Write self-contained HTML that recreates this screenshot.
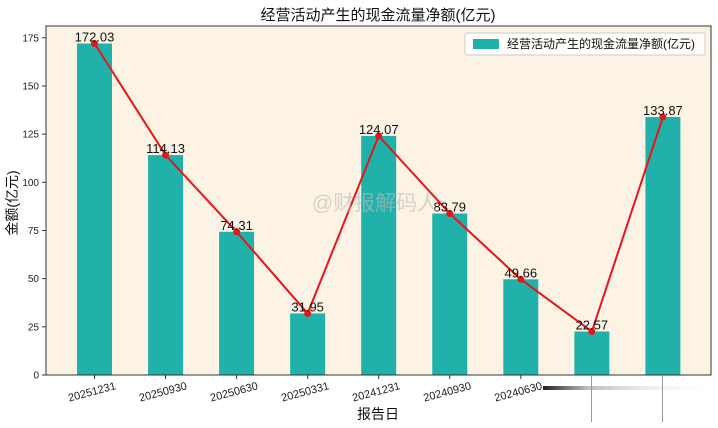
<!DOCTYPE html>
<html><head><meta charset="utf-8">
<style>
body{margin:0;background:#fff;}
svg{display:block;font-family:"Liberation Sans","Noto Sans CJK SC",sans-serif;}
</style></head>
<body>
<svg id="chart" width="718" height="428">
<defs>
<linearGradient id="fade" x1="0" x2="1" y1="0" y2="0">
<stop offset="0" stop-color="#222"/><stop offset="0.25" stop-color="#bbb"/><stop offset="1" stop-color="#fff" stop-opacity="0"/>
</linearGradient>
</defs>
<rect x="46" y="26" width="665" height="349" fill="#fdf3e4"/>
<text x="378" y="20" text-anchor="middle" font-size="15" fill="#111">经营活动产生的现金流量净额(亿元)</text>
<g id="bars"></g>
<g id="line"></g>
<g id="labels"></g>
<g id="yaxis"></g>
<g id="xaxis"></g>
<text x="375" y="210" text-anchor="middle" font-size="21" fill="#bbb" opacity="0.6">@财报解码人</text>
<rect x="46" y="26" width="665" height="349" fill="none" stroke="#333" stroke-width="1"/>
<g>
<rect x="465" y="33" width="240" height="22" fill="#fff" fill-opacity="0.85" stroke="#ccc" rx="2"/>
<rect x="473" y="39" width="26" height="10" fill="#20b2aa"/>
<text x="507" y="48" font-size="12" fill="#111">经营活动产生的现金流量净额(亿元)</text>
</g>
<text transform="translate(17,203) rotate(-90)" text-anchor="middle" font-size="14" fill="#111">金额(亿元)</text>
<text x="378" y="419" text-anchor="middle" font-size="14" fill="#111">报告日</text>
<rect x="543" y="386" width="175" height="4" fill="url(#fade)"/>
<line x1="591.5" y1="375" x2="591.5" y2="422" stroke="#999" stroke-width="1"/>
<line x1="662.5" y1="375" x2="662.5" y2="422" stroke="#999" stroke-width="1"/>
</svg>
<script>
const categories=["20251231","20250930","20250630","20250331","20241231","20240930","20240630","20240331","20231231"];
const values=[172.03,114.13,74.31,31.95,124.07,83.79,49.66,22.57,133.87];
const valueLabels=["172.03","114.13","74.31","31.95","124.07","83.79","49.66","22.57","133.87"];
const shownTicks=[true,true,true,true,true,true,true,false,false];
const yTicks=[0,25,50,75,100,125,150,175];
const NS="http://www.w3.org/2000/svg";
const xS=i=>94.5+i*71.05;
const yS=v=>375-v*1.927;
function mk(t,a,p){const e=document.createElementNS(NS,t);for(const k in a)e.setAttribute(k,a[k]);p.appendChild(e);return e;}
const bars=document.getElementById('bars'),line=document.getElementById('line'),labels=document.getElementById('labels'),ya=document.getElementById('yaxis'),xa=document.getElementById('xaxis');
values.forEach((v,i)=>{
 const r=mk('rect',{x:xS(i)-17.5,y:yS(v),width:35,height:375-yS(v),fill:'#20b2aa'},bars);
 
 
 const t=mk('text',{x:xS(i),y:yS(v)-2,'text-anchor':'middle','font-size':13,fill:'#111'},labels);
 t.textContent=valueLabels[i];
 
 
});
const pl=mk('polyline',{points:values.map((v,i)=>xS(i)+','+yS(v)).join(' '),fill:'none',stroke:'#e8141a','stroke-width':2},line);


values.forEach((v,i)=>{
 const c=mk('circle',{cx:xS(i),cy:yS(v),r:3.5,fill:'#e8141a'},line);
 
 
});
yTicks.forEach(v=>{
 mk('line',{x1:42,x2:46,y1:yS(v),y2:yS(v),stroke:'#333'},ya);
 const t=mk('text',{x:39,y:yS(v)+3.5,'text-anchor':'end','font-size':10,fill:'#222'},ya);
 t.textContent=v;
 
 
});
categories.forEach((c,i)=>{
 if(!shownTicks[i])return;
 mk('line',{x1:xS(i),x2:xS(i),y1:375,y2:379,stroke:'#333'},xa);
 const ax=xS(i)+22;
 const t=mk('text',{x:ax,y:389,'text-anchor':'end','font-size':11,fill:'#222',transform:'rotate(-15 '+ax+' 389)'},xa);
 t.textContent=c;
 
 
});
</script>
</body></html>
